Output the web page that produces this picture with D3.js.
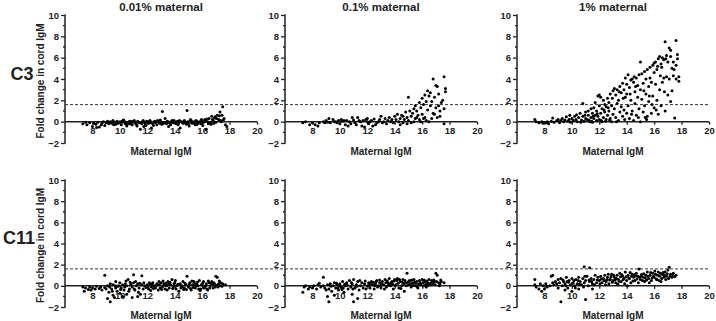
<!DOCTYPE html>
<html>
<head>
<meta charset="utf-8">
<script src="https://cdn.jsdelivr.net/npm/d3@7"></script>
<style>
  body { margin: 0; background: #fff; }
  svg { display: block; font-family: "Liberation Sans", Arial, sans-serif; font-weight: bold; }
</style>
</head>
<body>
<svg id="chart" width="716" height="321"></svg>
<script>
// titles / labels
const colTitles = ["0.01% maternal", "0.1% maternal", "1% maternal"];
const rowLabels = ["C3", "C11"];
const xTicks = [8, 10, 12, 14, 16, 18, 20];
const yTicks = [-2, 0, 2, 4, 6, 8, 10];
const yMinor = [-1, 1, 3, 5, 7, 9];
const cutoff = 1.6;

// C3, 0.01% maternal  [maternal IgM, fold change]
const c3_001 = [[7.3,-0.2],[7.5,-0.05],[7.6,-0.3],[7.8,-0.1],[8.0,-0.45],[8.1,-0.15],[8.3,-0.55],[8.4,-0.05],[8.5,-0.5],[8.7,-0.1],[8.8,0.0],[8.9,-0.35],[9.0,-0.1],[9.1,0.05],[9.2,-0.2],[9.3,0.0],[9.4,-0.15],[9.5,0.1],[9.6,-0.05],[9.7,-0.25],[9.8,0.05],[9.9,-0.1],[10.0,0.0],[10.1,-0.3],[10.2,-0.05],[10.3,0.1],[10.4,-0.2],[10.5,-0.4],[10.6,-0.1],[10.7,0.05],[10.8,-0.15],[10.9,-0.3],[11.0,0.0],[11.1,-0.1],[11.2,-0.25],[11.3,0.05],[11.4,-0.1],[11.5,-0.7],[11.6,-0.2],[11.7,0.1],[11.8,-0.05],[11.9,-0.35],[12.0,0.0],[12.1,-0.15],[12.2,0.1],[12.3,-0.6],[12.4,-0.2],[12.5,0.0],[12.6,-0.1],[12.7,-0.3],[12.8,0.05],[12.9,-0.15],[13.0,0.0],[13.1,0.95],[13.2,-0.1],[13.3,0.3],[13.4,-0.2],[13.5,0.0],[13.6,-0.05],[13.7,-0.3],[13.8,0.1],[13.9,-0.1],[14.0,0.0],[14.1,-0.2],[14.2,0.05],[14.3,-0.1],[14.4,-0.6],[14.5,0.0],[14.6,-0.15],[14.7,0.1],[14.8,-0.05],[14.9,1.05],[15.0,-0.2],[15.1,0.05],[15.2,0.1],[15.3,-0.1],[15.4,0.0],[15.5,-0.3],[15.6,0.05],[15.7,-0.1],[15.8,0.0],[15.9,-0.2],[16.0,0.1],[16.1,-0.05],[16.2,0.2],[16.3,-0.7],[16.4,0.0],[16.5,0.3],[16.6,-0.1],[16.7,0.5],[16.8,0.1],[16.9,0.35],[17.0,-0.05],[17.1,0.6],[17.2,0.2],[17.3,0.9],[17.4,0.0],[17.5,1.4],[17.6,0.3],[17.7,-0.3],[17.8,-0.45],[9.15,-0.05],[9.45,0.0],[9.85,-0.15],[10.15,0.05],[10.45,-0.05],[10.75,-0.2],[11.05,0.1],[11.35,-0.05],[11.65,0.0],[11.95,0.05],[12.25,-0.1],[12.55,0.05],[12.85,-0.05],[13.15,-0.2],[13.45,0.05],[13.75,0.0],[14.05,-0.1],[14.35,0.1],[14.65,-0.1],[14.95,0.0],[15.25,-0.15],[15.55,0.1],[15.85,-0.05],[16.15,0.0],[16.45,-0.2],[16.75,0.2],[17.05,0.3],[17.35,0.1],[10.55,-0.25],[11.25,-0.4],[11.85,-0.2],[12.45,-0.35],[13.05,-0.25],[13.65,-0.15],[14.25,-0.3],[14.85,-0.25],[15.45,-0.2],[16.05,-0.35],[16.65,-0.25],[12.95,0.15],[15.15,0.2],[16.35,0.25],[16.95,0.45],[17.25,0.55],[9.55,-0.3],[10.25,0.15],[10.85,0.05],[11.55,-0.1],[12.15,0.05],[12.75,0.1],[13.35,-0.1],[13.95,0.1],[14.55,-0.05],[15.05,-0.4],[15.65,-0.25],[16.25,0.1],[16.85,-0.15],[17.45,0.6],[17.55,0.15],[8.25,-0.25],[8.65,-0.3],[11.75,-0.45],[13.55,-0.45],[15.95,0.2]];

// C3, 0.1% maternal
const c3_01 = [[7.3,-0.1],[7.5,0.0],[7.8,-0.3],[8.0,-0.1],[8.2,-0.3],[8.4,-0.4],[8.5,-0.1],[8.8,0.0],[9.0,0.1],[9.2,0.3],[9.3,-0.1],[9.5,0.2],[9.7,0.0],[9.9,0.1],[10.0,-0.2],[10.2,0.05],[10.4,-0.3],[10.5,0.1],[10.7,0.0],[10.9,0.4],[11.0,0.15],[11.1,-0.1],[11.3,0.4],[11.5,0.0],[11.6,-0.4],[11.8,-0.5],[11.9,0.2],[12.0,0.3],[12.1,-0.2],[12.3,0.1],[12.5,0.25],[12.6,-0.3],[12.8,0.0],[12.9,0.2],[13.0,0.5],[13.1,-0.1],[13.3,0.3],[13.5,0.1],[13.6,0.4],[13.8,0.2],[13.9,-0.1],[14.0,0.5],[14.1,0.2],[14.2,0.7],[14.3,0.0],[14.4,0.3],[14.5,0.6],[14.6,-0.1],[14.7,0.2],[14.8,0.9],[14.9,0.4],[15.0,2.3],[15.0,0.1],[15.1,1.0],[15.2,0.5],[15.3,0.8],[15.4,1.2],[15.5,0.3],[15.5,1.5],[15.6,1.0],[15.7,0.6],[15.8,1.8],[15.8,0.2],[15.9,1.3],[16.0,2.2],[16.0,0.7],[16.1,1.6],[16.2,2.5],[16.2,0.4],[16.3,1.9],[16.4,2.9],[16.4,1.1],[16.5,2.4],[16.5,0.0],[16.6,2.7],[16.6,1.5],[16.7,1.9],[16.8,4.0],[16.8,0.8],[16.9,2.3],[17.0,3.4],[17.0,1.3],[17.1,3.3],[17.1,0.4],[17.2,2.6],[17.3,1.0],[17.3,0.5],[17.4,1.8],[17.5,2.0],[17.6,4.2],[17.6,1.2],[17.6,-0.2],[17.7,3.1],[17.7,2.8],[16.7,0.3],[15.9,0.0],[16.3,0.1],[15.4,0.0],[14.9,-0.2],[13.7,0.0],[12.7,-0.1],[12.2,0.0],[11.4,0.1],[10.8,-0.2],[10.3,0.1],[9.8,-0.1],[9.1,-0.05],[13.2,0.0],[14.4,-0.3],[12.4,-0.4],[11.2,-0.3],[10.6,-0.4],[13.4,-0.2],[15.2,-0.1],[16.1,0.3],[16.9,0.7],[17.2,1.5],[15.6,0.4],[14.6,0.5],[12.0,0.0],[11.7,0.1],[9.6,0.0],[10.1,0.2],[8.9,-0.1]];

// C3, 1% maternal
const c3_1 = [[7.3,0.2],[7.4,0.0],[7.6,-0.1],[7.8,0.0],[7.9,-0.15],[8.1,-0.1],[8.2,0.0],[8.3,-0.2],[8.5,0.05],[8.6,0.35],[8.7,-0.05],[8.9,0.1],[9.0,0.2],[9.1,-0.1],[9.2,0.1],[9.3,0.3],[9.4,0.0],[9.5,0.15],[9.6,0.45],[9.7,0.05],[9.8,0.2],[9.9,-0.05],[10.0,0.3],[9.85,0.6],[10.1,0.1],[10.2,0.5],[10.3,0.2],[10.4,0.0],[10.5,0.4],[10.6,0.8],[10.7,0.15],[10.8,1.7],[10.8,0.5],[10.9,0.05],[11.0,0.9],[11.0,0.3],[10.35,0.65],[10.65,-0.05],[10.95,0.6],[11.1,0.2],[11.2,1.0],[11.2,0.6],[11.3,0.0],[11.4,1.2],[11.4,0.4],[11.5,0.8],[11.5,-0.05],[11.6,1.3],[11.6,0.3],[11.7,0.6],[11.7,1.8],[11.8,0.1],[11.8,1.0],[11.9,2.4],[11.9,0.5],[12.0,1.5],[12.0,0.2],[12.0,2.5],[11.25,0.15],[11.55,0.5],[11.85,0.75],[11.45,0.05],[12.1,2.3],[12.1,0.8],[12.2,1.2],[12.2,0.0],[12.3,2.0],[12.3,0.4],[12.4,1.6],[12.4,0.9],[12.5,1.4],[12.5,0.2],[12.6,2.2],[12.6,0.6],[12.7,1.8],[12.7,1.0],[12.8,2.6],[12.8,0.3],[12.9,1.5],[12.9,0.0],[13.0,2.9],[13.0,0.7],[12.15,0.1],[12.45,0.05],[12.75,0.15],[12.35,1.1],[12.65,1.3],[12.95,2.2],[13.1,3.1],[13.1,1.2],[13.2,2.5],[13.2,0.4],[13.3,3.0],[13.3,1.7],[13.4,2.0],[13.4,0.1],[13.5,3.3],[13.5,0.9],[13.6,2.7],[13.6,1.4],[13.7,3.6],[13.7,0.5],[13.8,3.0],[13.8,1.1],[13.9,2.3],[13.9,4.1],[14.0,3.5],[14.0,0.8],[14.0,2.6],[13.45,2.8],[13.75,2.2],[13.25,0.0],[13.85,0.2],[14.1,4.4],[14.1,1.5],[14.2,3.2],[14.2,0.3],[14.3,3.9],[14.3,2.0],[14.4,4.0],[14.4,1.0],[14.5,3.7],[14.5,0.1],[14.6,2.8],[14.6,1.7],[14.7,4.1],[14.7,0.6],[14.8,3.4],[14.8,2.3],[14.9,4.4],[14.9,1.2],[15.0,5.6],[15.0,3.0],[15.0,0.0],[14.25,2.6],[14.55,4.2],[14.85,0.4],[14.35,0.7],[14.65,3.3],[15.1,4.5],[15.1,2.1],[15.2,3.6],[15.2,0.9],[15.3,4.7],[15.3,1.5],[15.4,4.0],[15.4,2.6],[15.5,4.9],[15.5,0.5],[15.6,3.3],[15.6,1.9],[15.7,5.1],[15.7,4.1],[15.8,3.7],[15.8,0.8],[15.9,5.3],[15.9,2.4],[16.0,4.6],[16.0,1.3],[16.0,5.5],[15.25,2.9],[15.45,0.2],[15.65,2.4],[15.85,1.6],[15.35,0.4],[16.1,5.6],[16.1,3.5],[16.2,4.9],[16.2,2.0],[16.3,5.9],[16.3,0.7],[16.4,6.1],[16.4,3.0],[16.5,5.4],[16.5,1.5],[16.6,6.0],[16.6,3.7],[16.7,5.8],[16.7,4.1],[16.8,7.5],[16.8,1.0],[16.9,6.2],[16.9,4.2],[17.0,5.6],[17.0,2.5],[17.1,6.9],[17.1,4.0],[16.15,1.1],[16.45,4.3],[16.75,2.8],[16.25,5.2],[16.55,5.1],[16.85,5.9],[17.2,6.7],[17.2,1.9],[17.3,5.0],[17.3,2.9],[17.4,5.6],[17.4,4.3],[17.5,0.35],[17.6,7.6],[17.6,5.3],[17.6,4.0],[17.7,6.3],[17.7,5.9],[17.8,4.2],[17.8,3.8],[17.2,6.1],[17.45,4.9]];

// C11, 0.01% maternal
const c11_001 = [[7.3,-0.1],[7.4,-0.5],[7.5,-0.2],[7.7,-0.35],[7.8,-0.1],[7.9,-0.4],[8.0,-0.2],[8.2,-0.3],[8.3,-0.05],[8.5,-0.25],[8.6,-0.1],[8.7,-0.4],[8.9,1.0],[8.9,-0.15],[9.0,-0.3],[9.1,-1.2],[9.1,0.0],[9.2,-0.6],[9.3,-1.5],[9.3,0.2],[9.4,-0.3],[9.5,-0.9],[9.5,0.1],[9.6,-1.1],[9.7,-0.2],[9.7,0.4],[9.8,-0.5],[9.9,0.0],[10.0,-0.7],[10.0,0.3],[10.1,-0.2],[10.2,-1.0],[10.2,0.1],[10.3,-0.4],[10.4,0.2],[10.5,-0.8],[10.5,0.0],[10.6,0.6],[10.7,-0.3],[10.8,0.15],[10.9,-1.1],[10.9,-0.1],[11.0,1.05],[11.0,0.3],[11.1,-0.4],[11.2,0.0],[11.3,-1.0],[11.3,0.2],[11.4,-0.2],[11.5,-0.8],[11.6,0.95],[11.6,0.1],[11.7,-0.3],[11.8,0.0],[11.9,-0.15],[9.25,-0.1],[9.65,0.0],[10.35,-0.1],[10.75,0.35],[11.15,0.4],[11.45,0.25],[10.05,-0.35],[9.85,-0.05],[12.0,0.1],[12.1,-0.3],[12.2,0.2],[12.3,-0.1],[12.4,0.3],[12.5,0.0],[12.6,-0.2],[12.7,0.2],[12.8,-0.4],[12.9,0.1],[13.0,0.3],[13.1,-0.1],[13.2,0.2],[13.3,-0.3],[13.4,0.0],[13.5,0.4],[13.6,-0.2],[13.7,0.1],[13.8,0.6],[13.9,-0.1],[14.0,0.3],[14.1,-0.3],[14.2,0.1],[14.3,-0.5],[14.4,0.2],[14.5,0.0],[14.6,0.4],[14.7,-0.2],[14.8,0.1],[14.9,0.9],[15.0,-0.1],[15.1,0.3],[15.2,-0.4],[15.3,0.1],[15.4,0.4],[15.5,-0.2],[15.6,0.2],[15.7,0.0],[15.8,0.5],[15.9,-0.3],[16.0,0.1],[16.1,0.4],[16.2,-0.1],[16.3,0.2],[16.4,-0.4],[16.5,0.3],[16.6,0.0],[16.7,0.4],[16.8,-0.2],[16.9,0.2],[17.0,0.9],[17.1,0.8],[17.2,0.2],[17.3,0.0],[17.5,0.2],[17.7,0.1],[12.05,-0.1],[12.35,0.15],[12.65,0.0],[12.95,-0.2],[13.25,0.05],[13.55,0.15],[13.85,-0.25],[14.15,0.0],[14.45,-0.2],[14.75,0.25],[15.05,0.15],[15.35,-0.15],[15.65,0.35],[15.95,0.1],[16.25,0.0],[16.55,-0.2],[16.85,0.3],[17.15,-0.1],[12.25,-0.45],[12.85,0.4],[13.45,-0.4],[14.05,0.5],[14.65,-0.35],[15.25,0.45],[15.85,-0.45],[16.45,0.45],[17.05,0.05],[13.15,0.45],[13.95,0.2],[14.85,-0.35],[15.55,0.0],[16.15,-0.2],[16.75,0.1],[17.35,0.3],[12.15,0.3],[12.45,-0.25],[12.75,0.1],[13.05,-0.35],[13.35,0.25],[13.65,0.35],[14.25,0.15],[14.55,-0.1],[15.15,-0.25],[15.45,0.2],[15.75,-0.3],[16.05,0.3],[16.35,-0.3],[16.65,0.25],[16.95,-0.1],[17.25,0.45],[17.45,-0.05],[10.65,-0.5],[11.05,-0.3],[11.75,0.3],[9.45,-0.5],[10.45,0.45],[11.35,-0.6]];

// C11, 0.1% maternal
const c11_01 = [[7.3,-0.6],[7.4,-0.1],[7.5,0.0],[7.7,-0.3],[7.8,-0.1],[8.0,-0.2],[8.1,0.0],[8.3,-0.3],[8.4,0.1],[8.5,0.25],[8.6,-0.1],[8.8,0.8],[8.8,0.0],[8.9,-0.2],[9.0,-0.4],[9.1,-1.0],[9.1,0.1],[9.2,-1.5],[9.2,-0.3],[9.3,0.2],[9.4,-0.5],[9.5,0.0],[9.6,-0.9],[9.6,0.3],[9.7,-0.2],[9.8,0.1],[9.9,-0.4],[10.0,0.2],[10.1,-0.1],[10.2,0.4],[10.3,-0.6],[10.4,0.0],[10.5,0.3],[10.6,-0.3],[10.7,0.5],[10.8,-0.1],[10.9,-0.8],[10.9,0.2],[11.0,-1.5],[11.0,0.6],[11.1,-0.2],[11.2,0.1],[11.3,-1.2],[11.3,0.4],[11.4,-0.4],[11.5,0.0],[11.6,0.3],[11.7,-0.2],[11.8,0.2],[11.9,-0.3],[9.35,-0.05],[9.75,0.25],[10.15,-0.35],[10.55,0.05],[10.95,-0.3],[11.45,0.5],[10.35,0.15],[9.95,0.0],[12.0,0.0],[12.1,0.3],[12.2,-0.2],[12.3,0.4],[12.4,0.1],[12.5,-0.3],[12.6,0.2],[12.7,0.5],[12.8,0.0],[12.9,0.3],[13.0,-0.2],[13.1,0.4],[13.2,0.1],[13.3,0.6],[13.4,-0.1],[13.5,0.3],[13.6,0.7],[13.7,0.0],[13.8,0.4],[13.9,-0.3],[14.0,0.6],[14.1,0.1],[14.2,0.7],[14.3,-0.2],[14.4,0.4],[14.5,0.0],[14.6,0.6],[14.7,-0.5],[14.8,0.3],[14.9,1.2],[15.0,0.1],[15.1,0.5],[15.2,-0.1],[15.3,0.3],[15.4,0.6],[15.5,0.0],[15.6,0.4],[15.7,-0.2],[15.8,0.5],[15.9,0.1],[16.0,0.6],[16.1,0.0],[16.2,0.4],[16.3,-0.1],[16.4,0.3],[16.5,0.6],[16.6,0.1],[16.7,0.5],[16.8,0.2],[16.9,0.4],[17.0,1.2],[17.1,1.0],[17.2,0.3],[17.3,0.2],[17.4,0.4],[17.6,0.3],[12.15,0.05],[12.45,0.35],[12.75,-0.1],[13.05,0.15],[13.35,0.3],[13.65,0.2],[13.95,0.45],[14.25,0.25],[14.55,0.35],[14.85,0.0],[15.15,0.2],[15.45,0.35],[15.75,0.15],[16.05,0.3],[16.35,0.45],[16.65,0.3],[16.95,0.1],[17.25,0.0],[12.55,0.0],[13.25,-0.3],[13.85,0.15],[14.45,-0.25],[15.05,0.45],[15.65,-0.1],[16.25,0.15],[16.85,0.55],[12.9,0.55],[14.15,0.5],[15.35,0.05],[16.55,0.2],[13.55,0.05],[14.75,0.5],[12.25,0.25],[12.65,0.4],[12.95,0.0],[13.45,0.45],[13.75,0.3],[14.05,0.05],[14.35,0.6],[14.65,0.2],[14.95,0.35],[15.25,0.55],[15.55,0.25],[15.85,0.3],[16.15,0.55],[16.45,0.05],[16.75,0.35],[17.05,0.4],[17.35,0.55],[11.85,0.45],[11.25,-0.05],[10.85,0.3],[10.25,-0.2],[9.85,-0.2]];

// C11, 1% maternal
const c11_1 = [[7.3,0.6],[7.3,0.1],[7.4,-0.1],[7.6,-0.3],[7.7,0.2],[7.8,-0.5],[7.9,0.0],[8.0,-0.3],[8.1,0.2],[8.2,-0.1],[8.4,0.0],[8.5,0.9],[8.6,1.0],[8.6,0.3],[8.7,0.1],[8.8,0.4],[8.9,0.2],[9.0,0.6],[9.0,-0.2],[9.1,0.3],[9.2,-1.5],[9.2,0.7],[9.3,0.0],[9.4,0.4],[9.5,-0.4],[9.5,0.2],[9.6,0.8],[9.7,-0.2],[9.8,0.5],[9.9,0.1],[10.0,-0.5],[10.0,0.7],[10.1,0.3],[10.2,0.0],[10.3,0.6],[10.4,0.2],[10.5,-0.3],[10.5,0.8],[10.6,0.4],[10.7,0.1],[10.8,0.7],[10.9,1.8],[10.9,0.3],[11.0,-1.3],[11.0,0.5],[11.1,0.9],[11.2,0.0],[11.3,1.7],[11.3,0.4],[11.4,0.7],[11.5,0.2],[11.5,-0.3],[11.6,0.6],[11.7,1.0],[11.8,0.3],[11.9,0.8],[9.35,0.55],[9.75,0.35],[10.15,0.5],[10.55,0.15],[10.95,0.9],[11.25,0.55],[11.65,0.1],[9.55,0.0],[10.25,-0.2],[10.85,-0.1],[12.0,0.5],[12.1,0.9],[12.2,0.3],[12.3,0.7],[12.4,1.0],[12.5,0.4],[12.6,0.8],[12.7,0.2],[12.8,0.6],[12.9,1.1],[13.0,0.5],[13.1,0.8],[13.2,0.3],[13.3,1.0],[13.4,0.6],[13.5,1.2],[13.6,0.4],[13.7,0.9],[13.8,0.7],[13.9,1.3],[14.0,0.5],[14.1,1.0],[14.2,0.7],[14.3,0.3],[14.4,1.1],[14.5,0.8],[14.6,0.5],[14.7,1.2],[14.8,0.9],[14.9,1.6],[15.0,0.6],[15.1,1.1],[15.2,0.8],[15.3,0.4],[15.4,1.0],[15.5,1.3],[15.6,0.7],[15.7,1.0],[15.8,0.5],[15.9,1.2],[16.0,0.8],[16.1,1.1],[16.2,0.6],[16.3,1.3],[16.4,0.9],[16.5,0.4],[16.6,1.1],[16.7,0.8],[16.8,1.3],[16.9,0.9],[17.0,1.5],[17.1,1.75],[17.2,1.1],[17.3,0.8],[17.4,1.2],[17.6,1.0],[12.05,0.2],[12.35,0.5],[12.65,1.1],[12.95,0.35],[13.25,0.7],[13.55,0.85],[13.85,0.2],[14.15,0.75],[14.45,0.45],[14.75,0.65],[15.05,0.95],[15.35,0.75],[15.65,0.3],[15.95,0.9],[16.25,1.0],[16.55,0.7],[16.85,0.6],[17.15,0.9],[12.45,0.1],[13.05,1.0],[13.65,1.05],[14.25,1.25],[14.85,0.3],[15.45,0.55],[16.05,1.4],[16.65,1.25],[13.35,0.15],[13.95,0.85],[14.55,1.05],[15.15,0.5],[15.75,1.25],[16.35,0.5],[16.95,1.15],[12.75,0.55],[14.05,0.0],[12.15,0.65],[12.55,0.6],[12.85,0.85],[13.15,0.55],[13.45,0.4],[13.75,0.6],[14.35,0.9],[14.65,0.95],[14.95,0.8],[15.25,1.15],[15.55,0.9],[15.85,0.75],[16.15,0.65],[16.45,1.2],[16.75,1.0],[17.05,0.7],[17.35,1.05],[17.5,0.85],[11.45,0.4],[11.85,0.55],[10.45,0.5],[10.05,0.25],[9.65,0.4]];

const panelData = [[c3_001, c3_01, c3_1], [c11_001, c11_01, c11_1]];

// layout
const colLeft = [65, 285, 517];
const colWidth = 192;
const rowTop = [15, 180];
const rowBottom = [143, 307];
const ink = "#222";

const svg = d3.select("#chart");

rowLabels.forEach((rowName, r) => {
    const y = d3.scaleLinear().domain([-2, 10]).range([rowBottom[r], rowTop[r]]);

    // dashed cutoff line across the whole row
    svg.append("line")
        .attr("x1", colLeft[0]).attr("x2", 709)
        .attr("y1", y(cutoff)).attr("y2", y(cutoff))
        .attr("stroke", "#333").attr("stroke-width", 1)
        .attr("stroke-dasharray", "3,2");

    // row label
    svg.append("text")
        .attr("x", r === 0 ? 22 : 19).attr("y", y(4.5))
        .attr("text-anchor", "middle").attr("dominant-baseline", "central")
        .attr("font-size", 18).attr("fill", ink)
        .text(rowName);

    // y axis title on first column
    svg.append("text")
        .attr("transform", `translate(40,${(rowTop[r] + rowBottom[r]) / 2 + 2}) rotate(-90)`)
        .attr("text-anchor", "middle").attr("dominant-baseline", "central")
        .attr("font-size", 10).attr("fill", ink)
        .text("Fold change in cord IgM");

    colTitles.forEach((title, c) => {
        const x = d3.scaleLinear().domain([6, 20]).range([colLeft[c], colLeft[c] + colWidth]);
        const g = svg.append("g");

        if (r === 0) {
            g.append("text")
                .attr("x", x(13)).attr("y", 7)
                .attr("text-anchor", "middle").attr("dominant-baseline", "central")
                .attr("font-size", 11.5).attr("fill", ink)
                .text(title);
        }

        // y axis
        const yAxis = g.append("g")
            .attr("transform", `translate(${colLeft[c]},0)`)
            .call(d3.axisLeft(y).tickValues(yTicks).tickSize(4).tickPadding(2).tickFormat(d3.format("d")));
        yAxis.selectAll(".minor")
            .data(yMinor).enter().append("line")
            .attr("class", "minor")
            .attr("x1", -2).attr("x2", 0)
            .attr("y1", d => y(d)).attr("y2", d => y(d))
            .attr("stroke", ink).attr("stroke-width", 1.3);

        // x axis along zero
        const xAxis = g.append("g")
            .attr("transform", `translate(0,${y(0)})`)
            .call(d3.axisBottom(x).tickValues(xTicks).tickSize(3).tickPadding(3).tickFormat(d3.format("d")));

        [yAxis, xAxis].forEach(a => {
            a.select(".domain").attr("stroke", ink).attr("stroke-width", 1.5);
            a.selectAll(".tick line").attr("stroke", ink).attr("stroke-width", 1.3);
            a.selectAll(".tick text").attr("fill", ink)
                .attr("font-size", 9.5).attr("font-weight", "bold")
                .attr("font-family", "'Liberation Sans', Arial, sans-serif");
        });
        yAxis.select(".domain").attr("d", `M-0.5,${rowBottom[r]}H0V${rowTop[r]}H-0.5`);
        xAxis.select(".domain").attr("d", `M${colLeft[c]},0H${colLeft[c] + colWidth}`);

        // x axis title
        g.append("text")
            .attr("x", x(13)).attr("y", y(-2) + 8)
            .attr("text-anchor", "middle").attr("dominant-baseline", "central")
            .attr("font-size", 10).attr("fill", ink)
            .text("Maternal IgM");

        // points
        g.append("g").selectAll("circle")
            .data(panelData[r][c]).enter().append("circle")
            .attr("cx", d => x(d[0]))
            .attr("cy", d => y(d[1]))
            .attr("r", 1.5)
            .attr("fill", "#000");
    });
});
</script>
</body>
</html>
